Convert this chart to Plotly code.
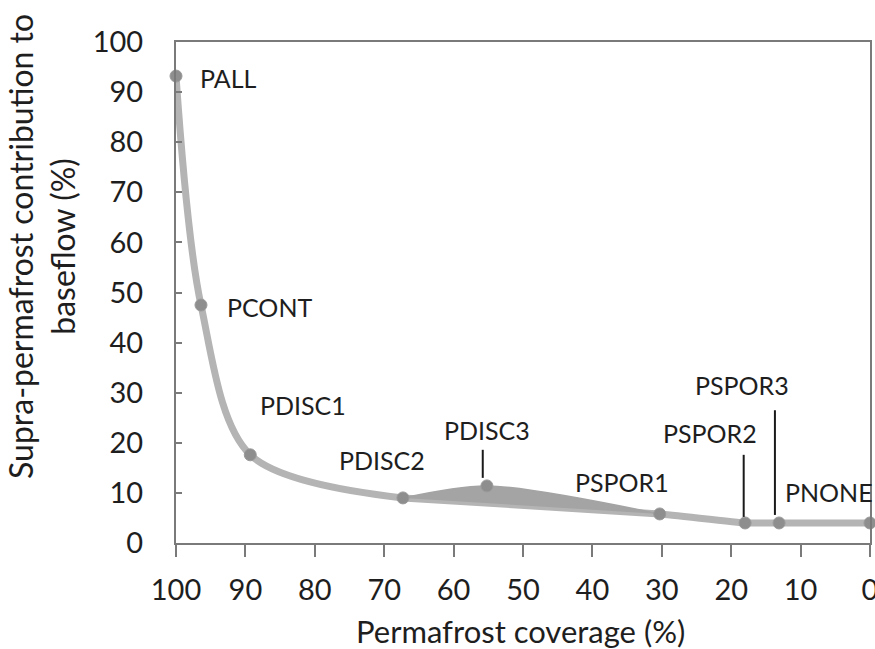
import plotly.graph_objects as go

# Scenario results: permafrost coverage vs supra-permafrost baseflow share
names = ["PALL", "PCONT", "PDISC1", "PDISC2", "PDISC3", "PSPOR1", "PSPOR2", "PSPOR3", "PNONE"]
coverage = [100, 96.4, 89.3, 67.3, 55.2, 30.3, 18.0, 13.1, 0]
contribution = [93.2, 47.5, 17.6, 9.0, 11.4, 5.8, 4.0, 4.0, 4.0]

# Label placement (data coords, left-anchored unless noted)
label_x = [96.8, 92.9, 88.2, 76.8, 55.2, 42.8, 30.1, 25.5, 12.5]
label_y = [92.8, 47.1, 27.5, 16.6, 22.6, 12.2, 21.9, 31.5, 10.2]
label_anchor = ["left", "left", "left", "left", "center", "left", "left", "left", "left"]

# Leader lines for labels placed away from their points
leader_x = [55.8, 18.2, 13.7]
leader_top = [18.6, 17.6, 26.5]
leader_bottom = [13.0, 5.2, 5.6]

x_ticks = list(range(0, 101, 10))
y_ticks = list(range(0, 101, 10))

FONT = "Lato, 'Open Sans', sans-serif"
TXT = "#1e1e1e"
AXIS = "#7a7a7a"

# Steep part of the curve is smoothed; the low-coverage tail runs nearly straight
steep_idx = [0, 1, 2, 3]
tail_idx = [3, 5, 6, 7, 8]
bump_idx = [3, 4, 5]

fig = go.Figure()

fig.add_trace(go.Scatter(
    x=[coverage[i] for i in steep_idx], y=[contribution[i] for i in steep_idx],
    mode="lines", line=dict(color="#b4b4b4", width=7, shape="spline", smoothing=0.9),
    showlegend=False, hoverinfo="skip", cliponaxis=False))
fig.add_trace(go.Scatter(
    x=[coverage[i] for i in tail_idx], y=[contribution[i] for i in tail_idx],
    mode="lines", line=dict(color="#b4b4b4", width=7, shape="spline", smoothing=0.3),
    showlegend=False, hoverinfo="skip", cliponaxis=False))

# Shaded wedge between the tail and the PDISC3 bump
fig.add_trace(go.Scatter(
    x=[coverage[i] for i in [3, 5]], y=[contribution[i] for i in [3, 5]],
    mode="lines", line=dict(color="#a4a4a4", width=0), showlegend=False,
    hoverinfo="skip"))
fig.add_trace(go.Scatter(
    x=[coverage[i] for i in bump_idx], y=[contribution[i] for i in bump_idx],
    mode="lines", line=dict(color="#a4a4a4", width=1.5, shape="spline", smoothing=0.8),
    fill="tonexty", fillcolor="#a4a4a4", showlegend=False, hoverinfo="skip"))

fig.add_trace(go.Scatter(
    x=coverage, y=contribution, mode="markers",
    marker=dict(color="#8e8e8e", size=12, line=dict(color="#9a9a9a", width=1)),
    showlegend=False, cliponaxis=False, text=names))

for name, lx, ly, anc in zip(names, label_x, label_y, label_anchor):
    fig.add_annotation(x=lx, y=ly, text=name, showarrow=False, xanchor=anc,
                       yanchor="middle", font=dict(family=FONT, size=25, color=TXT))

for lx, y0, y1 in zip(leader_x, leader_top, leader_bottom):
    fig.add_shape(type="line", x0=lx, x1=lx, y0=y0, y1=y1,
                  line=dict(color="#1a1a1a", width=2))

fig.add_annotation(
    x=-0.193, y=0.591, xref="paper", yref="paper", textangle=-90, showarrow=False,
    xanchor="center", yanchor="middle",
    text="Supra-permafrost contribution to<br>baseflow (%)",
    font=dict(family=FONT, size=32, color=TXT), align="center")
fig.add_annotation(
    x=0.497, y=-0.176, xref="paper", yref="paper", showarrow=False,
    xanchor="center", yanchor="middle", text="Permafrost coverage (%)",
    font=dict(family=FONT, size=31, color=TXT))

fig.update_xaxes(
    range=[100, 0], tickvals=x_ticks, ticks="outside", ticklen=12, tickwidth=1.5,
    tickcolor=AXIS, showline=True, linecolor=AXIS, linewidth=2,
    mirror=True, showgrid=False, zeroline=False, ticklabelstandoff=8,
    ticklabeloverflow="allow", automargin=False,
    tickfont=dict(family=FONT, size=29, color=TXT))
fig.update_yaxes(
    range=[0, 100], tickvals=y_ticks, ticks="inside", ticklen=6, tickwidth=1.5,
    tickcolor=AXIS, showline=True, linecolor=AXIS, linewidth=2,
    mirror=True, showgrid=False, zeroline=False, ticklabelstandoff=25,
    automargin=False,
    tickfont=dict(family=FONT, size=29, color=TXT))

fig.update_layout(
    width=875, height=649,
    margin=dict(l=176, r=5, t=42, b=106),
    paper_bgcolor="white", plot_bgcolor="white",
)

fig.write_html("out.html")
